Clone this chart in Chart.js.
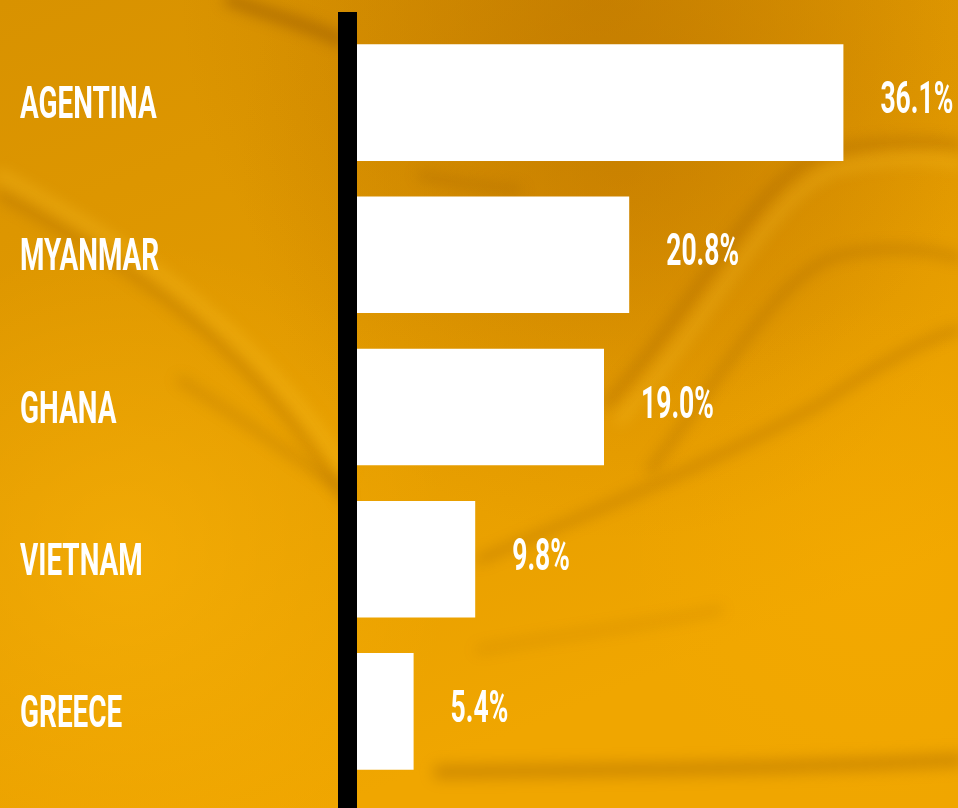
<!DOCTYPE html>
<html>
<head>
<meta charset="utf-8">
<script src="https://cdn.jsdelivr.net/npm/chart.js@4/dist/chart.umd.min.js"></script>
<style>
html,body{margin:0;padding:0;background:#E09A00;}
#wrap{width:958px;height:808px;position:relative;}
</style>
</head>
<body>
<div id="wrap"><canvas id="c"></canvas></div>
<script>
const categories = ['AGENTINA', 'MYANMAR', 'GHANA', 'VIETNAM', 'GREECE'];
const shares = [36.1, 20.8, 19.0, 9.8, 5.4];
const valueLabels = ['36.1%', '20.8%', '19.0%', '9.8%', '5.4%'];

function drawBackground(ctx, w, h) {
  ctx.save();
  let g = ctx.createLinearGradient(0, 0, w * 0.35, h);
  g.addColorStop(0, '#D89200');
  g.addColorStop(0.5, '#E29A00');
  g.addColorStop(1, '#F0A600');
  ctx.fillStyle = g; ctx.fillRect(0, 0, w, h);

  let r = ctx.createRadialGradient(620, 160, 10, 620, 160, 380);
  r.addColorStop(0, 'rgba(185,110,0,0.35)'); r.addColorStop(1, 'rgba(185,110,0,0)');
  ctx.fillStyle = r; ctx.fillRect(0, 0, w, h);

  r = ctx.createRadialGradient(130, 560, 10, 130, 560, 320);
  r.addColorStop(0, 'rgba(255,185,10,0.45)'); r.addColorStop(1, 'rgba(255,185,10,0)');
  ctx.fillStyle = r; ctx.fillRect(0, 0, w, h);

  r = ctx.createRadialGradient(880, 560, 10, 880, 560, 260);
  r.addColorStop(0, 'rgba(250,175,0,0.3)'); r.addColorStop(1, 'rgba(250,175,0,0)');
  ctx.fillStyle = r; ctx.fillRect(0, 0, w, h);

  r = ctx.createRadialGradient(600, 0, 10, 600, 0, 420);
  r.addColorStop(0, 'rgba(170,100,0,0.35)'); r.addColorStop(1, 'rgba(170,100,0,0)');
  ctx.fillStyle = r; ctx.fillRect(0, 0, w, h);

  ctx.filter = 'blur(7px)';
  ctx.lineCap = 'round';
  function stroke(pts, col, lw) {
    ctx.beginPath(); ctx.moveTo(pts[0], pts[1]);
    for (let i = 2; i < pts.length; i += 6) ctx.bezierCurveTo(pts[i], pts[i+1], pts[i+2], pts[i+3], pts[i+4], pts[i+5]);
    ctx.strokeStyle = col; ctx.lineWidth = lw; ctx.stroke();
  }
  const dark = 'rgba(140,80,0,0.4)', light = 'rgba(255,200,40,0.3)';
  stroke([0,195, 120,260, 250,340, 345,500], dark, 6);
  stroke([0,175, 120,240, 250,320, 345,470], light, 12);
  stroke([180,380, 260,430, 310,470, 345,490], dark, 5);
  stroke([606,404, 700,300, 760,170, 830,150, 880,140, 930,140, 958,145], dark, 7);
  stroke([620,420, 714,316, 774,186, 840,168, 890,158, 930,158, 958,163], light, 10);
  stroke([650,470, 720,380, 780,270, 840,255, 890,245, 930,250, 958,258], dark, 6);
  stroke([479,560, 560,525, 700,470, 820,404, 870,370, 920,340, 958,330], dark, 6);
  stroke([420,175, 440,180, 470,185, 520,190], dark, 5);
  stroke([479,650, 560,635, 650,625, 720,610], 'rgba(140,80,0,0.2)', 6);
  stroke([440,772, 620,770, 800,768, 958,760], 'rgba(150,90,0,0.35)', 14);
  stroke([230,0, 270,15, 310,25, 340,40], 'rgba(130,70,0,0.45)', 12);
  ctx.filter = 'none';
  ctx.restore();
}

const bgPlugin = {
  id: 'bg',
  beforeDraw(chart) { drawBackground(chart.ctx, chart.width, chart.height); }
};

const FONT = 'bold 45px Roboto';
const SX = 0.62;

const labelPlugin = {
  id: 'labels',
  afterDatasetsDraw(chart) {
    const ctx = chart.ctx, ca = chart.chartArea;
    ctx.save();
    ctx.fillStyle = '#000';
    ctx.fillRect(ca.left, ca.top - 14.5, 19, chart.height - ca.top + 14.5);
    ctx.fillStyle = '#fff';
    ctx.font = FONT;
    ctx.textBaseline = 'alphabetic';
    ctx.textAlign = 'left';
    const ys = chart.scales.y;
    categories.forEach((c, i) => {
      const y = ys.getPixelForValue(i);
      ctx.save(); ctx.translate(20, y + 15.5); ctx.scale(SX, 1); ctx.fillText(c, 0, 0); ctx.restore();
    });
    const meta = chart.getDatasetMeta(0);
    meta.data.forEach((bar, i) => {
      ctx.save(); ctx.translate(bar.x + 37, bar.y + 10.5); ctx.scale(SX * 0.95, 1); ctx.fillText(valueLabels[i], 0, 0); ctx.restore();
    });
    ctx.restore();
  }
};

new Chart(document.getElementById('c'), {
  type: 'bar',
  data: {
    labels: categories,
    datasets: [{
      data: shares,
      backgroundColor: '#FFFFFF',
      borderWidth: 0,
      categoryPercentage: 1,
      barPercentage: 0.766
    }]
  },
  options: {
    indexAxis: 'y',
    responsive: true,
    maintainAspectRatio: false,
    animation: false,
    layout: { padding: { left: 338, right: 4, top: 26.5, bottom: 20.5 } },
    plugins: { legend: { display: false }, tooltip: { enabled: false } },
    scales: {
      x: { display: false, min: 0, max: 44 },
      y: { display: false }
    }
  },
  plugins: [bgPlugin, labelPlugin]
});
</script>
</body>
</html>
